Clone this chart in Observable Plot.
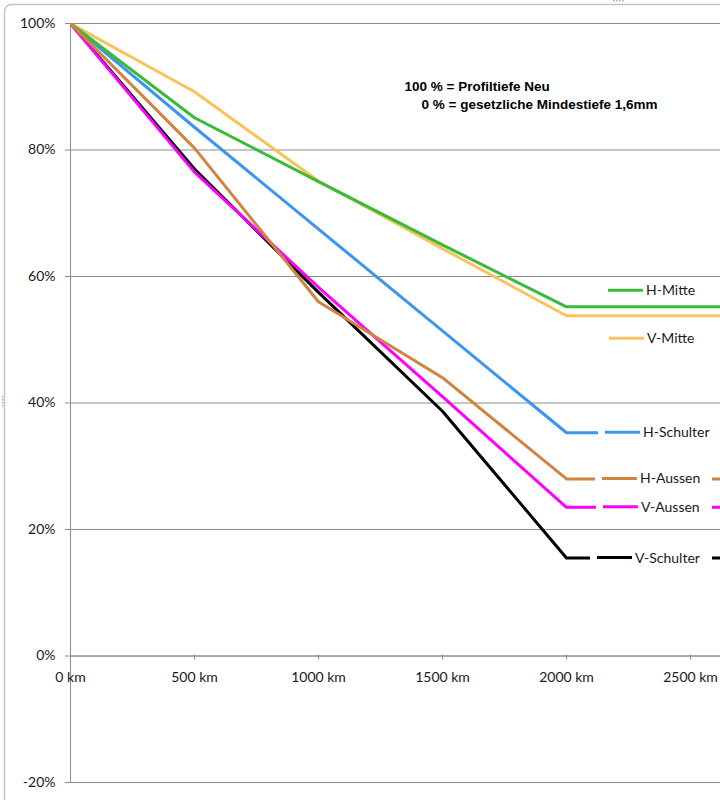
<!DOCTYPE html>
<html><head><meta charset="utf-8">
<script src="https://cdn.jsdelivr.net/npm/d3@7"></script>
<script src="https://cdn.jsdelivr.net/npm/@observablehq/plot@0.6"></script>
<style>body{margin:0;background:#fff}</style>
</head><body><div id="chart"></div>
<script>
// ---- data ----
const km = [0, 500, 1000, 1500, 2000];
const hMitte    = [100, 85.1, 75.0, 65.0, 55.2];
const vMitte    = [100, 89.2, 75.1, 64.4, 53.8];
const hSchulter = [100, 83.6, 67.5, 51.4, 35.3];
const hAussen   = [100, 80.3, 56.0, 44.0, 28.0];
const vAussen   = [100, 76.5, 58.3, 41.0, 23.5];
const vSchulter = [100, 77.0, 57.5, 38.7, 15.5];
const xMax = 2621;
const yTicks = [-20, 0, 20, 40, 60, 80, 100];
const xTicks = [0, 500, 1000, 1500, 2000, 2500];
const notes = ["100 % = Profiltiefe Neu", "0 % = gesetzliche Mindestiefe 1,6mm"];

// drawing order (last on top)
const series = [
  {name: "V-Schulter", values: vSchulter, color: "#000000"},
  {name: "V-Aussen",   values: vAussen,   color: "#ff00ff"},
  {name: "H-Schulter", values: hSchulter, color: "#3b96ee"},
  {name: "V-Mitte",    values: vMitte,    color: "#f9c35c"},
  {name: "H-Mitte",    values: hMitte,    color: "#38bb38"},
  {name: "H-Aussen",   values: hAussen,   color: "#d0843f"}
];

// label layout (pixels)
const labelLayout = [
  {name: "H-Mitte",    dy: -16, left: 601, right: 0,   box: false},
  {name: "V-Mitte",    dy: 23,  left: 602, right: 0,   box: false},
  {name: "H-Schulter", dy: 0,   left: 598, right: 722, box: true},
  {name: "H-Aussen",   dy: 0,   left: 595, right: 712, box: true},
  {name: "V-Aussen",   dy: 0,   left: 596, right: 712, box: true},
  {name: "V-Schulter", dy: 0,   left: 590, right: 712, box: true}
];

const rows = [];
for (const s of series) {
  km.forEach((k, i) => rows.push({series: s.name, km: k, value: s.values[i]}));
  rows.push({series: s.name, km: xMax, value: s.values[s.values.length - 1]});
}

const gray = "#8c8c8c";

const frameMark = () => {
  const g = d3.create("svg:g");
  g.append("rect").attr("x", 4.5).attr("y", 4.5).attr("width", 800).attr("height", 900)
    .attr("rx", 7).attr("fill", "none").attr("stroke", "#c4c4c4").attr("stroke-width", 1.5);
  for (let i = 0; i < 4; i++) {
    g.append("rect").attr("x", 613 + i * 3).attr("y", 0).attr("width", 1.5).attr("height", 1.5).attr("fill", "#aaa");
    g.append("rect").attr("x", 2).attr("y", 396 + i * 3).attr("width", 1.5).attr("height", 1.5).attr("fill", "#aaa");
  }
  return g.node();
};

const legendMark = (index, scales) => {
  const g = d3.create("svg:g");
  for (const L of labelLayout) {
    const s = series.find(d => d.name === L.name);
    const yy = scales.y(s.values[s.values.length - 1]) + L.dy;
    if (L.box) g.append("rect").attr("x", L.left).attr("y", yy - 7).attr("width", L.right - L.left)
      .attr("height", 14).attr("fill", "white");
    g.append("line").attr("x1", L.left + 7).attr("x2", L.left + 42).attr("y1", yy).attr("y2", yy)
      .attr("stroke", s.color).attr("stroke-width", 3);
    g.append("text").attr("x", L.left + 45).attr("y", yy).attr("dy", "0.36em")
      .attr("text-anchor", "start")
      .attr("font-family", "Lato").attr("font-size", 14).attr("fill", "#1a1a1a").text(s.name);
  }
  return g.node();
};

const chart = Plot.plot({
  width: 720, height: 800,
  marginLeft: 70, marginRight: 0, marginTop: 23, marginBottom: 18,
  x: {domain: [0, xMax], axis: null},
  y: {domain: [-20, 100], axis: null},
  color: {domain: series.map(d => d.name), range: series.map(d => d.color)},
  style: {fontFamily: "Lato", background: "white", overflow: "visible"},
  marks: [
    frameMark,
    Plot.gridY(yTicks, {stroke: gray, strokeOpacity: 1}),
    Plot.ruleX([0], {stroke: gray}),
    Plot.ruleY([0], {stroke: gray}),
    Plot.axisY({ticks: yTicks, tickFormat: d => d + "%", tickSize: 5, tickPadding: 10,
      stroke: gray, fill: "#1a1a1a", fontSize: 14, label: null}),
    Plot.ruleX(xTicks, {x: d => d, y1: 0, y2: 0, insetTop: -1, insetBottom: -4, stroke: gray}),
    Plot.text(xTicks, {x: d => d, y: 0, dy: 22, text: d => `${d} km`, fontSize: 14,
      fill: "#1a1a1a", ariaLabel: "xlabels"}),
    Plot.line(rows, {x: "km", y: "value", z: "series", stroke: "series", strokeWidth: 3,
      strokeLinejoin: "round", clip: true}),
    legendMark,
    Plot.text([notes[0]], {frameAnchor: "top-left", dx: 334, dy: 58, text: d => d, textAnchor: "start",
      fontFamily: "Liberation Sans", fontWeight: "bold", fontSize: 13.5, fill: "#000"}),
    Plot.text([notes[1]], {frameAnchor: "top-left", dx: 351, dy: 76, text: d => d, textAnchor: "start",
      fontFamily: "Liberation Sans", fontWeight: "bold", fontSize: 13.5, fill: "#000"})
  ]
});
d3.select(chart).selectAll('g[aria-label="xlabels"] text').style("letter-spacing", "-0.3px");
document.getElementById("chart").appendChild(chart);
</script>
</body></html>
